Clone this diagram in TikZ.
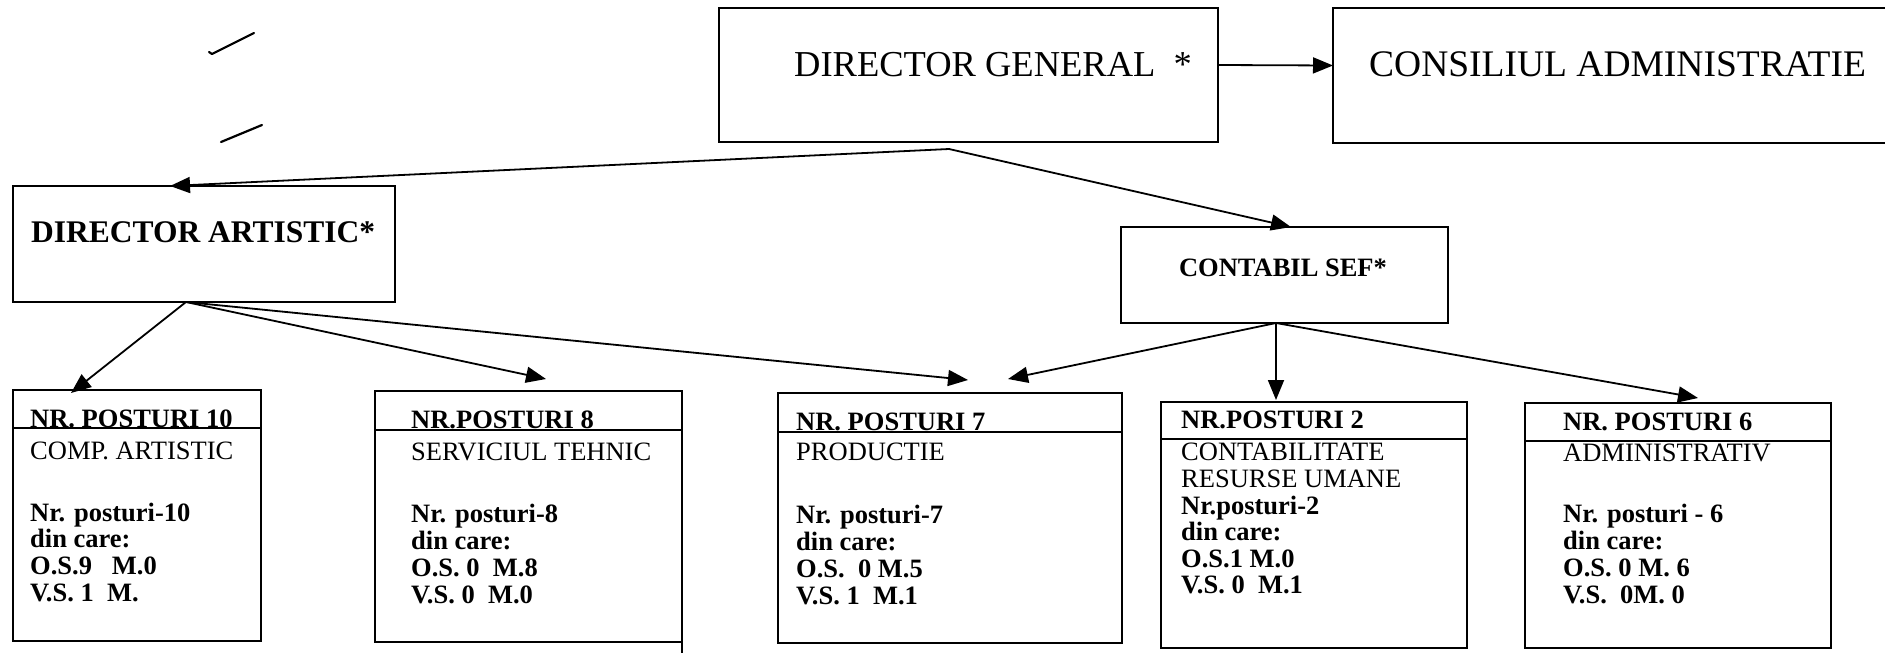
\documentclass[tikz,border=0pt]{standalone}
\usepackage{fontspec}
\setmainfont{Liberation Serif}
\usetikzlibrary{arrows.meta}
\begin{document}
\begin{tikzpicture}[x=1pt,y=-1pt,
  box/.style={draw, line width=2pt, inner sep=0pt, outer sep=0pt, anchor=north west},
  conn/.style={line width=1.8pt, -{Triangle[length=20pt,width=16pt]}},
  txt/.style={inner sep=0pt, anchor=base west},
  hdr/.style={txt, font=\fontsize{26.5}{28}\selectfont\bfseries},
  nm/.style={txt, font=\fontsize{26.5}{28}\selectfont},
  num/.style={txt, font=\fontsize{26.5}{28}\selectfont\bfseries},
  penmark/.style={line width=2.2pt, line cap=round, line join=round}
]
\useasboundingbox (0,0) rectangle (1885,653);

% top level boxes
\node[box, minimum width=499pt, minimum height=134pt] (dg) at (719,8) {};
\node[box, minimum width=600pt, minimum height=135pt] (ca) at (1333,8) {};
\node[box, minimum width=382pt, minimum height=116pt] (da) at (13,186) {};
\node[box, minimum width=327pt, minimum height=96pt] (cs) at (1121,227) {};

\node[txt, font=\fontsize{36.5}{40}\selectfont] (dgt) at (794,76) {DIRECTOR GENERAL \ *};
\node[txt, font=\fontsize{37.5}{40}\selectfont] (cat) at (1369,76) {CONSILIUL ADMINISTRATIE};
\node[txt, font=\fontsize{31.5}{36}\selectfont\bfseries] (dat) at (31,242) {DIRECTOR ARTISTIC*};
\node[inner sep=0pt, anchor=base, font=\fontsize{26.5}{30}\selectfont\bfseries] (cst) at (1283,276) {CONTABIL SEF*};

% bottom boxes
\node[box, minimum width=248pt, minimum height=251pt] (b1) at (13,390) {};
\node[box, minimum width=307pt, minimum height=251pt] (b2) at (375,391) {};
\node[box, minimum width=344pt, minimum height=250pt] (b3) at (778,393) {};
\node[box, minimum width=306pt, minimum height=246pt] (b4) at (1161,402) {};
\node[box, minimum width=306pt, minimum height=245pt] (b5) at (1525,403) {};

% header lines
\draw[line width=2pt] ([yshift=-38pt]b1.north west) -- ([yshift=-38pt]b1.north east);
\draw[line width=2pt] ([yshift=-39pt]b2.north west) -- ([yshift=-39pt]b2.north east);
\draw[line width=2pt] ([yshift=-39pt]b3.north west) -- ([yshift=-39pt]b3.north east);
\draw[line width=2pt] ([yshift=-37pt]b4.north west) -- ([yshift=-37pt]b4.north east);
\draw[line width=2pt] ([yshift=-38pt]b5.north west) -- ([yshift=-38pt]b5.north east);
\draw[line width=2pt] (b2.south east) -- ++(0,12);

% box 1
\node[hdr] (b1h) at (30,427) {NR. POSTURI 10};
\node[nm] (b1m) at (30,459) {COMP. ARTISTIC};
\foreach \t [count=\i] in {Nr. posturi-10, din care:, O.S.9~~ M.0, V.S. 1~ M.}
  \node[num] (b1n\i) at (30,{521+26.7*(\i-1)}) {\t};
% box 2
\node[hdr] (b2h) at (411,428) {NR.POSTURI 8};
\node[nm] (b2m) at (411,460) {SERVICIUL TEHNIC};
\foreach \t [count=\i] in {Nr. posturi-8, din care:, O.S. 0~ M.8, V.S. 0~ M.0}
  \node[num] (b2n\i) at (411,{522+27*(\i-1)}) {\t};
% box 3
\node[hdr] (b3h) at (796,430) {NR. POSTURI 7};
\node[nm] (b3m) at (796,460) {PRODUCTIE};
\foreach \t [count=\i] in {Nr. posturi-7, din care:, O.S.~ 0 M.5, V.S. 1~ M.1}
  \node[num] (b3n\i) at (796,{523+27*(\i-1)}) {\t};
% box 4
\node[hdr] (b4h) at (1181,428) {NR.POSTURI 2};
\node[nm] (b4m1) at (1181,460) {CONTABILITATE};
\node[nm] (b4m2) at (1181,487) {RESURSE UMANE};
\foreach \t [count=\i] in {Nr.posturi-2, din care:, O.S.1 M.0, V.S. 0~ M.1}
  \node[num] (b4n\i) at (1181,{514+26.5*(\i-1)}) {\t};
% box 5
\node[hdr] (b5h) at (1563,430) {NR. POSTURI 6};
\node[nm] (b5m) at (1563,461) {ADMINISTRATIV};
\foreach \t [count=\i] in {Nr. posturi - 6, din care:, O.S. 0 M. 6, V.S.~ 0M. 0}
  \node[num] (b5n\i) at (1563,{522+27*(\i-1)}) {\t};

% connectors
\coordinate (j) at (949,149);
\coordinate (s1) at ([xshift=173pt]da.south west);
\coordinate (s2) at ([xshift=155pt]cs.south west);

\draw[conn] ([yshift=10pt]dg.east) -- ([yshift=10pt]ca.west);
\draw[conn] (j) -- ([xshift=157pt]da.north west);
\draw[conn] (j) -- ([xshift=170pt]cs.north west);

\draw[conn] (s1) -- ([xshift=58pt,yshift=-3pt]b1.north west);
\draw[conn] (s1) -- ([xshift=171pt,yshift=12pt]b2.north west);
\draw[conn] (s1) -- ([xshift=190pt,yshift=13pt]b3.north west);

\draw[conn] (s2) -- ([xshift=230pt,yshift=14pt]b3.north west);
\draw[conn] (s2) -- ([xshift=115pt,yshift=2pt]b4.north west);
\draw[conn] (s2) -- ([xshift=173pt,yshift=5pt]b5.north west);

% stray pen marks
\draw[penmark] (254,33) -- (212,54) -- (209,52);
\draw[penmark] (262,125) -- (221,142);
\end{tikzpicture}
\end{document}
